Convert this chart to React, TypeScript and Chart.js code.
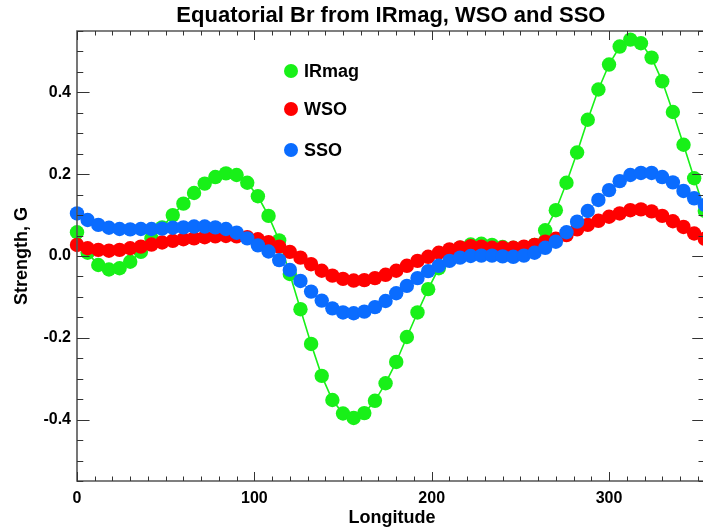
import React, { useEffect, useRef } from "react";
import { Chart, registerables } from "chart.js";

Chart.register(...registerables);

// Longitude (degrees)
const longitudes = [
  0, 6, 12, 18, 24, 30, 36, 42, 48, 54, 60, 66, 72, 78, 84, 90, 96, 102, 108, 114,
  120, 126, 132, 138, 144, 150, 156, 162, 168, 174, 180, 186, 192, 198, 204, 210, 216, 222, 228, 234,
  240, 246, 252, 258, 264, 270, 276, 282, 288, 294, 300, 306, 312, 318, 324, 330, 336, 342, 348, 354,
];

const irmag = [
  0.058, 0.008, -0.022, -0.033, -0.03, -0.014, 0.01, 0.043, 0.07, 0.1,
  0.128, 0.154, 0.177, 0.193, 0.202, 0.198, 0.179, 0.146, 0.098, 0.038,
  -0.044, -0.13, -0.215, -0.293, -0.352, -0.385, -0.396, -0.384, -0.354, -0.311,
  -0.259, -0.198, -0.138, -0.081, -0.03, 0.005, 0.02, 0.028, 0.03, 0.027,
  0.022, 0.02, 0.02, 0.027, 0.063, 0.112, 0.179, 0.253, 0.333, 0.407,
  0.468, 0.512, 0.529, 0.52, 0.485, 0.427, 0.352, 0.272, 0.19, 0.11,
];

const wso = [
  0.027, 0.019, 0.015, 0.013, 0.015, 0.019, 0.023, 0.028, 0.033, 0.037,
  0.041, 0.043, 0.046, 0.048, 0.049, 0.048, 0.046, 0.041, 0.034, 0.023,
  0.01, -0.004, -0.02, -0.036, -0.048, -0.056, -0.06, -0.059, -0.054, -0.046,
  -0.036, -0.024, -0.012, -0.002, 0.008, 0.016, 0.021, 0.024, 0.023, 0.02,
  0.02, 0.02, 0.023, 0.027, 0.035, 0.042, 0.051, 0.065, 0.076, 0.086,
  0.096, 0.104, 0.112, 0.114, 0.109, 0.098, 0.085, 0.071, 0.055, 0.042,
];

const sso = [
  0.104, 0.088, 0.076, 0.069, 0.066, 0.065, 0.066, 0.066, 0.067, 0.069,
  0.07, 0.072, 0.072, 0.07, 0.066, 0.057, 0.043, 0.026, 0.011, -0.01,
  -0.034, -0.061, -0.087, -0.109, -0.128, -0.138, -0.14, -0.136, -0.125, -0.11,
  -0.091, -0.073, -0.054, -0.037, -0.024, -0.012, -0.004, 0.0, 0.001, 0.001,
  -0.001, -0.002, 0.001, 0.008, 0.02, 0.035, 0.058, 0.084, 0.11, 0.137,
  0.161, 0.183, 0.198, 0.203, 0.203, 0.193, 0.18, 0.159, 0.141, 0.125,
];

const seriesNames = ["IRmag", "WSO", "SSO"];
const seriesColors = ["#18f018", "#ff0000", "#0a6cff"];

const xMajorTicks = [0, 100, 200, 300];
const yMajorTicks = [-0.4, -0.2, 0.0, 0.2, 0.4];

const titleText = "Equatorial Br from IRmag, WSO and SSO";
const xTitle = "Longitude";
const yTitle = "Strength, G";

const FONT = "'Liberation Sans', Arial, Helvetica, sans-serif";

const CANVAS_W = 712;
const CANVAS_H = 531;

const idlFrame = {
  id: "idlFrame",
  afterDraw(chart: any) {
    const ctx = chart.ctx as CanvasRenderingContext2D;
    const { left, right, top, bottom } = chart.chartArea;
    const xs = chart.scales.x;
    const ys = chart.scales.y;
    ctx.save();

    // axes box
    ctx.strokeStyle = "#555";
    ctx.lineWidth = 1.6;
    ctx.beginPath();
    ctx.rect(left, top, right - left, bottom - top);
    ctx.stroke();

    // ticks
    ctx.strokeStyle = "#333";
    ctx.lineWidth = 1;
    const plotH = bottom - top;
    const plotW = right - left;
    const xMaj = 0.02 * plotH;
    const yMaj = 0.02 * plotW;
    ctx.beginPath();
    for (let v = 0; v <= 350; v += 10) {
      const px = Math.round(xs.getPixelForValue(v)) + 0.5;
      const len = v % 100 === 0 ? xMaj : xMaj / 2;
      ctx.moveTo(px, bottom);
      ctx.lineTo(px, bottom - len);
      ctx.moveTo(px, top);
      ctx.lineTo(px, top + len);
    }
    for (let i = -11; i <= 11; i++) {
      const v = i * 0.05;
      const py = Math.round(ys.getPixelForValue(v)) + 0.5;
      const len = i % 4 === 0 ? yMaj : yMaj / 2;
      ctx.moveTo(left, py);
      ctx.lineTo(left + len, py);
      ctx.moveTo(right, py);
      ctx.lineTo(right - len, py);
    }
    ctx.stroke();

    // title
    const cx = (left + right) / 2;
    ctx.fillStyle = "#000";
    ctx.textAlign = "center";
    ctx.textBaseline = "alphabetic";
    ctx.font = `bold 22px ${FONT}`;
    ctx.fillText(titleText, cx, 22);

    // x title
    ctx.font = `bold 18px ${FONT}`;
    ctx.fillText(xTitle, cx + 1, 523);

    // y title
    ctx.save();
    ctx.translate(27, (top + bottom) / 2);
    ctx.rotate(-Math.PI / 2);
    ctx.textAlign = "center";
    ctx.fillText(yTitle, 0, 0);
    ctx.restore();

    // legend
    const legendY = [71, 109, 150];
    chart.data.datasets.forEach((ds: any, i: number) => {
      ctx.fillStyle = ds.backgroundColor;
      ctx.beginPath();
      ctx.arc(291, legendY[i], 7, 0, Math.PI * 2);
      ctx.fill();
      ctx.fillStyle = "#000";
      ctx.textAlign = "left";
      ctx.textBaseline = "middle";
      ctx.font = `bold 18px ${FONT}`;
      ctx.fillText(ds.label, 304, legendY[i] + 1);
    });

    ctx.restore();
  },
};

export default function App() {
  const canvasRef = useRef<HTMLCanvasElement | null>(null);

  useEffect(() => {
    if (!canvasRef.current) return;
    const seriesValues = [irmag, wso, sso];
    const orders = [3, 2, 1];
    const datasets = seriesNames.map((name, i) => ({
      label: name,
      data: longitudes.map((lon, j) => ({ x: lon, y: seriesValues[i][j] })),
      borderColor: seriesColors[i],
      backgroundColor: seriesColors[i],
      pointBackgroundColor: seriesColors[i],
      pointBorderWidth: 0,
      pointRadius: 7.2,
      pointHoverRadius: 7.2,
      borderWidth: i === 0 ? 1.6 : 1,
      showLine: true,
      tension: 0,
      clip: false as any,
      order: orders[i],
    }));

    const chart = new Chart(canvasRef.current, {
      type: "scatter",
      data: { datasets },
      options: {
        animation: false,
        responsive: false,
        events: [],
        layout: { padding: { top: 31, left: 0, right: CANVAS_W - 709.6, bottom: 0 } },
        plugins: {
          legend: { display: false },
          tooltip: { enabled: false },
          title: { display: false },
        },
        scales: {
          x: {
            type: "linear",
            min: 0,
            max: 354,
            grid: { display: false, drawTicks: false },
            border: { display: false },
            afterFit: (s: any) => {
              s.height = 50;
            },
            afterBuildTicks: (s: any) => {
              s.ticks = xMajorTicks.map((v) => ({ value: v }));
            },
            ticks: {
              autoSkip: false,
              maxRotation: 0,
              padding: 8,
              color: "#000",
              font: { family: FONT, size: 16, weight: "bold" },
              callback: (v: any) => String(Math.round(Number(v))),
            },
          },
          y: {
            type: "linear",
            min: -0.55,
            max: 0.55,
            grid: { display: false, drawTicks: false },
            border: { display: false },
            afterFit: (s: any) => {
              s.width = 77;
            },
            afterBuildTicks: (s: any) => {
              s.ticks = yMajorTicks.map((v) => ({ value: v }));
            },
            ticks: {
              autoSkip: false,
              padding: 6,
              color: "#000",
              font: { family: FONT, size: 16, weight: "bold" },
              callback: (v: any) => {
                const n = Number(v);
                return Math.abs(n) < 1e-9 ? "0.0" : n.toFixed(1);
              },
            },
          },
        },
      },
      plugins: [idlFrame],
    });

    return () => chart.destroy();
  }, []);

  return (
    <div
      style={{
        position: "fixed",
        left: 0,
        top: 0,
        width: 703,
        height: 531,
        overflow: "hidden",
        background: "#fff",
      }}
    >
      <canvas
        ref={canvasRef}
        width={CANVAS_W}
        height={CANVAS_H}
        style={{ display: "block", width: CANVAS_W, height: CANVAS_H }}
      />
    </div>
  );
}
